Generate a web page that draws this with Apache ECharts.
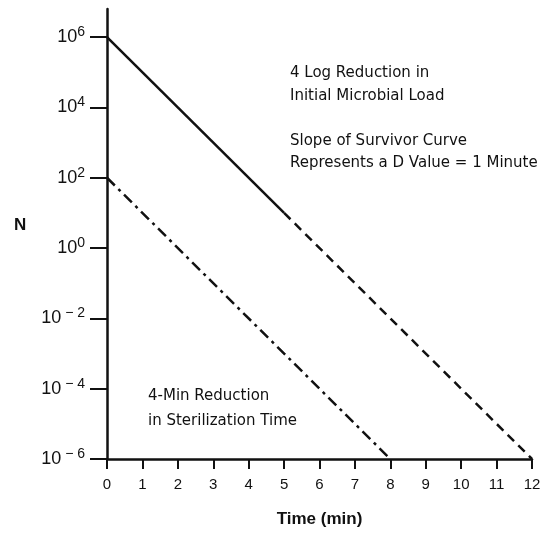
<!DOCTYPE html>
<html>
<head>
  <meta charset="utf-8">
  <title>Survivor curves</title>
  <script src="https://cdn.jsdelivr.net/npm/echarts@6/dist/echarts.min.js"></script>
</head>
<body style="margin:0;background:#fff">
<div id="main" style="width:559px;height:537px"></div>
<script type="text/javascript">
  // data
  var xTicks = [0, 1, 2, 3, 4, 5, 6, 7, 8, 9, 10, 11, 12];
  var yTicks = [1e-6, 1e-4, 1e-2, 1, 1e2, 1e4, 1e6];
  var solidLine = [[0, 1e6], [5, 10]];
  var dashedLine = [[5, 10], [12, 1e-6]];
  var dashDotLine = [[0, 1e2], [8, 1e-6]];
  var notes = [
    '4 Log Reduction in', 'Initial Microbial Load',
    'Slope of Survivor Curve', 'Represents a D Value = 1 Minute',
    '4-Min Reduction', 'in Sterilization Time'
  ];

  var ink = '#111';
  var font = 'Liberation Sans';

  var myChart = echarts.init(document.getElementById('main'));

  function powLabel(v) {
    var e = Math.round(Math.log(v) / Math.LN10);
    var s = e < 0 ? '\u2212 ' + (-e) : String(e);
    return '{b|10}{e|' + (e < 0 ? ' ' : '') + s + '}';
  }

  function txt(x, y, s) {
    return {
      type: 'text', left: x, top: y,
      style: { text: s, fill: ink, font: '15px "DejaVu Sans"' }
    };
  }

  var option = {
    animation: false,
    textStyle: { fontFamily: font },
    grid: { left: 107, right: 27, top: 9, bottom: 78 },
    xAxis: {
      type: 'value',
      min: 0, max: 12, interval: 1,
      name: 'Time (min)',
      nameLocation: 'middle',
      nameGap: 52,
      nameTextStyle: { color: ink, fontSize: 17, fontWeight: 'bold', fontFamily: font },
      splitLine: { show: false },
      axisLine: { lineStyle: { color: ink, width: 2.5 } },
      axisTick: { length: 10, lineStyle: { color: ink, width: 2 } },
      axisLabel: { color: ink, fontSize: 15, margin: 18,
        customValues: xTicks }
    },
    yAxis: {
      type: 'log',
      logBase: 10,
      min: 1e-6, max: 6309573,
      splitLine: { show: false },
      axisLine: { show: true, lineStyle: { color: ink, width: 2.5 } },
      axisTick: { length: 17, lineStyle: { color: ink, width: 2 }, customValues: yTicks },
      axisLabel: {
        customValues: yTicks,
        margin: 22,
        formatter: powLabel,
        rich: {
          b: { fontSize: 18, color: ink, fontFamily: font },
          e: { fontSize: 14, color: ink, fontFamily: font, padding: [0, 0, 10, 0] }
        }
      }
    },
    graphic: [
      {
        type: 'text', left: 14, top: 217,
        style: { text: 'N', fill: ink, font: 'bold 17px "Liberation Sans"' }
      },
      txt(290, 66, notes[0]),
      txt(290, 89, notes[1]),
      txt(290, 134, notes[2]),
      txt(290, 156, notes[3]),
      txt(148, 389, notes[4]),
      txt(148, 414, notes[5])
    ],
    series: [
      {
        type: 'line', data: solidLine, symbol: 'none',
        lineStyle: { color: ink, width: 2.5, type: 'solid' }
      },
      {
        type: 'line', data: dashedLine, symbol: 'none',
        lineStyle: { color: ink, width: 2.5, type: [9, 6] }
      },
      {
        type: 'line', data: dashDotLine, symbol: 'none',
        lineStyle: { color: ink, width: 2.5, type: [11, 5, 3, 5] }
      }
    ]
  };
  myChart.setOption(option);
</script>
</body>
</html>
